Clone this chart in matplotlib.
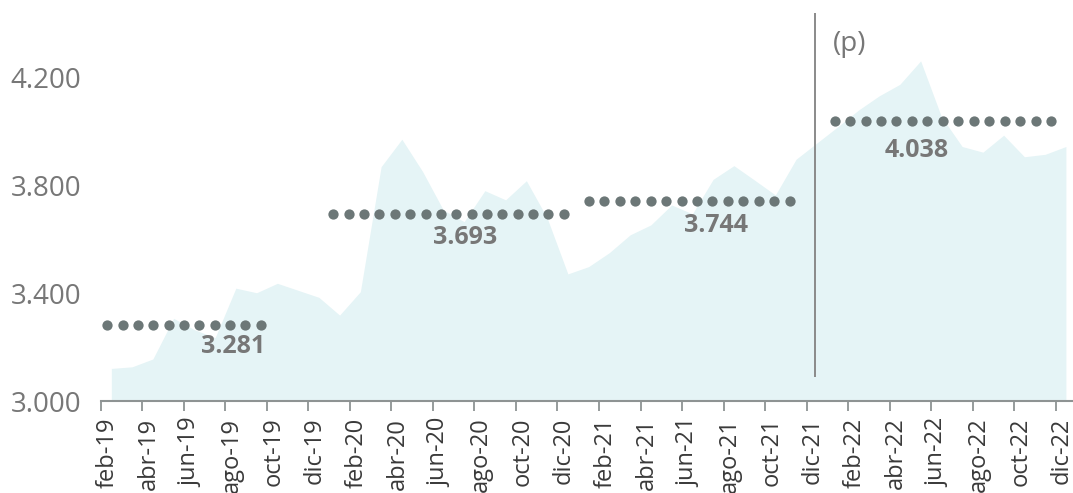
import numpy as np
import matplotlib
matplotlib.use("Agg")
import matplotlib.pyplot as plt
from matplotlib.ticker import FuncFormatter, FixedLocator

plt.rcParams["font.family"] = ["Open Sans", "DejaVu Sans"]

# monthly series, feb-19 .. dic-22
values = [3121, 3127, 3156, 3307, 3265, 3235, 3419, 3402, 3437, 3411, 3385,
          3319, 3406, 3870, 3972, 3852, 3709, 3666, 3781, 3747, 3818, 3680, 3472,
          3499, 3551, 3617, 3654, 3728, 3695, 3823, 3874, 3820, 3765, 3898, 3958,
          4018, 4080, 4133, 4176, 4263, 4056, 3945, 3924, 3987, 3907, 3916, 3945]
tick_labels = ["feb-19", "abr-19", "jun-19", "ago-19", "oct-19", "dic-19",
               "feb-20", "abr-20", "jun-20", "ago-20", "oct-20", "dic-20",
               "feb-21", "abr-21", "jun-21", "ago-21", "oct-21", "dic-21",
               "feb-22", "abr-22", "jun-22", "ago-22", "oct-22", "dic-22"]
averages = [3281, 3693, 3744, 4038]
y_ticks = [3000, 3400, 3800, 4200]

# layout of the average markers (category units)
seg_start = [-0.2, 10.7, 23.0, 34.85]
seg_end = [7.2, 21.8, 32.7, 45.3]
n_dots = [11, 16, 14, 15]
lab_x = [5.87, 17.04, 29.12, 38.81]
lab_dy = [-15.5, -17, -18, -21]

C_AREA, C_DOT, C_TXT, C_AX = "#e5f4f6", "#6c7777", "#777777", "#8e9393"

fig = plt.figure(figsize=(10.73, 4.93), dpi=100)
ax = fig.add_axes([0.0941, 0.1866, 0.9047, 0.8134])

x = np.arange(len(values))
ax.fill_between(x, 3000, values, color=C_AREA, lw=0, zorder=1)

for a, s, e, n, lx, dy in zip(averages, seg_start, seg_end, n_dots, lab_x, lab_dy):
    ax.plot(np.linspace(s, e, n), [a] * n, ls="none", marker="o", ms=7.4,
            mfc=C_DOT, mec="none", zorder=3)
    ax.annotate(f"{a:,}".replace(",", "."), (lx, a), xytext=(0, dy),
                textcoords="offset points", ha="center", va="center",
                fontsize=18, fontweight="bold", color=C_TXT, zorder=4)

# projection marker
ax.vlines(33.9, 3090, 4442, color="#8a8a8a", lw=1.4, zorder=2)
ax.text(35.6, 4325, "(p)", fontsize=20, color=C_TXT, ha="center", va="center")

ax.set_xlim(-0.5, 46.28)
ax.set_ylim(3000, 4489)

for sp in ["top", "right", "left"]:
    ax.spines[sp].set_visible(False)
ax.spines["bottom"].set_color(C_AX)
ax.spines["bottom"].set_linewidth(1.5)

ax.xaxis.set_major_locator(FixedLocator(np.arange(-0.5, 46, 2)))
ax.xaxis.set_minor_locator(FixedLocator(np.arange(0, 47, 2) - 0.2))
ax.xaxis.set_major_formatter(FuncFormatter(lambda v, p: ""))
ax.set_xticklabels(tick_labels, minor=True, rotation=90, fontsize=17,
                   color="#3a3a3a", va="top", ha="center")
ax.tick_params(axis="x", which="major", length=7, width=1.3, color=C_AX)
ax.tick_params(axis="x", which="minor", length=0, pad=12)

ax.set_yticks(y_ticks)
ax.yaxis.set_major_formatter(FuncFormatter(lambda v, p: f"{v:,.0f}".replace(",", ".")))
ax.tick_params(axis="y", length=0, pad=14, labelsize=20, labelcolor=C_TXT)

fig.savefig("out.png", dpi=100)
